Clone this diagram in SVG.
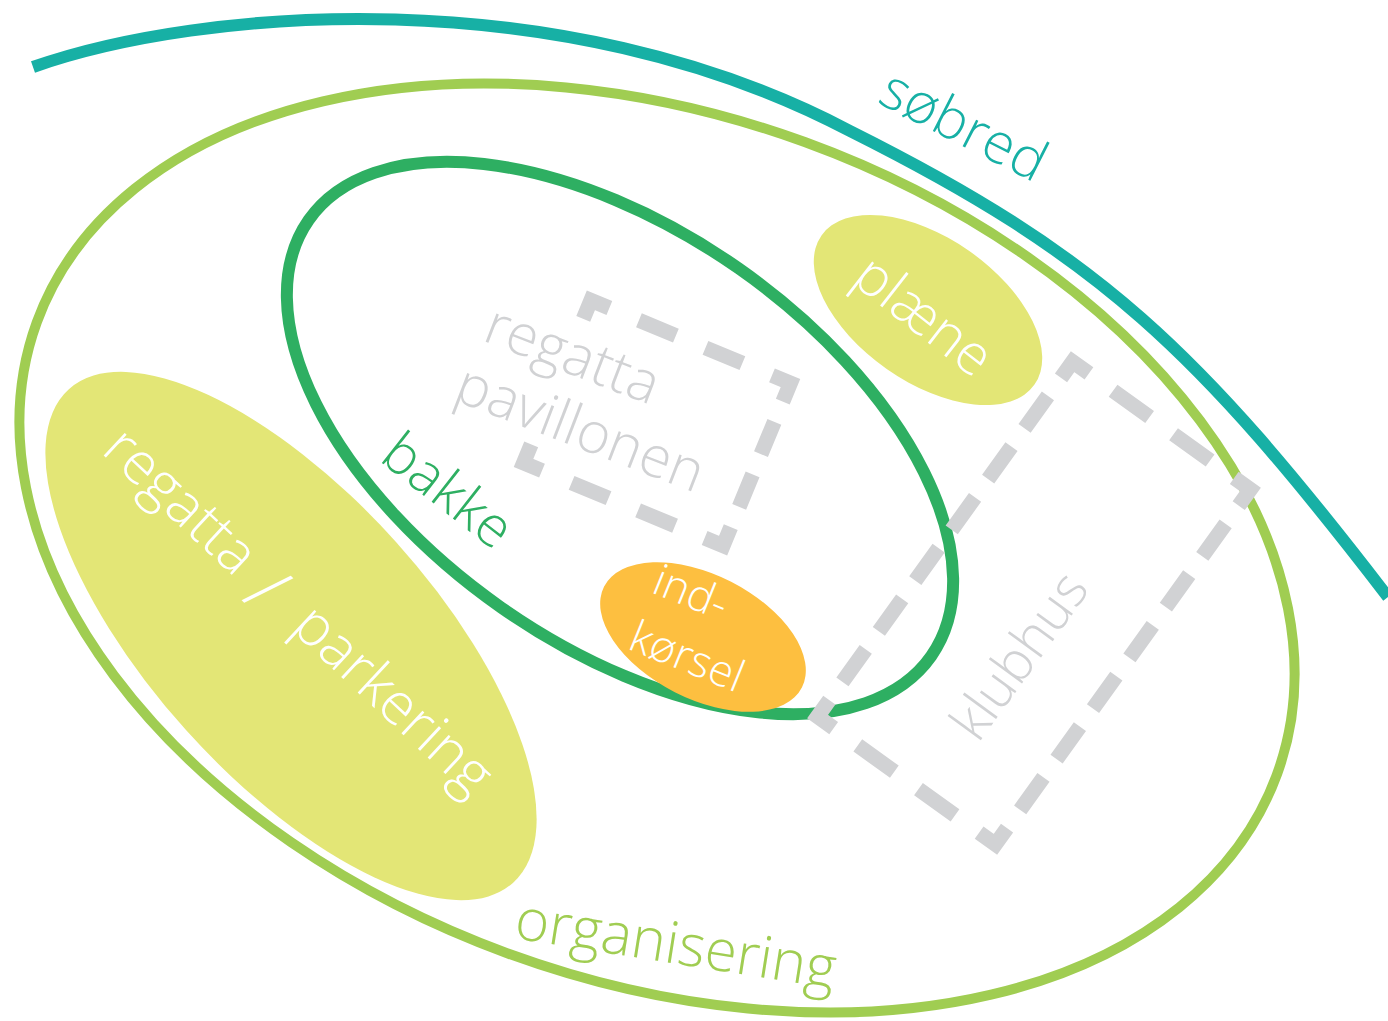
<svg xmlns="http://www.w3.org/2000/svg" width="1388" height="1021" viewBox="0 0 1388 1021">
<style>
.lbl{font-family:"Open Sans","Liberation Sans",sans-serif;font-weight:300}
.dash{fill:none;stroke:#d1d2d4;stroke-width:15;stroke-linejoin:miter;stroke-linecap:butt}
</style>
<rect width="1388" height="1021" fill="#ffffff"/>
<g id="organisering">
<ellipse cx="657" cy="548" rx="660" ry="432" transform="rotate(20 657 548)" fill="none" stroke="#a0cd52" stroke-width="10"/>
<text class="lbl" transform="translate(513 938) rotate(9)" font-size="58" fill="#a0cd52">organisering</text>
</g>
<g id="regatta-parkering">
<ellipse cx="291" cy="636" rx="332" ry="141" transform="rotate(48 291 636)" fill="#e3e676"/>
</g>
<g id="plaene">
<ellipse cx="928" cy="310" rx="130" ry="72" transform="rotate(35 928 310)" fill="#e3e676"/>
<text class="lbl" transform="translate(850 282) rotate(38)" font-size="56" fill="#ffffff">plæne</text>
</g>
<g id="bakke">
<ellipse cx="620" cy="438" rx="380" ry="207" transform="rotate(35 620 438)" fill="none" stroke="#2eaf62" stroke-width="12"/>
<text class="lbl" transform="translate(378 460) rotate(38)" font-size="56" fill="#2eaf62">bakke</text>
</g>
<g id="regatta-parkering-label">
<text class="lbl" transform="translate(100 452) rotate(43)" font-size="58" fill="#ffffff">regatta <tspan dx="4" dy="12" font-size="72">/</tspan> <tspan dx="16" dy="-12">parkering</tspan></text>
</g>
<g id="indkorsel">
<ellipse cx="703" cy="637" rx="111" ry="62" transform="rotate(27 703 637)" fill="#fdbf40"/>
<text class="lbl" transform="translate(650 592) rotate(22)" font-size="44" fill="#ffffff"><tspan x="0" y="0">ind-</tspan><tspan x="-1" y="61">kørsel</tspan></text>
</g>
<g id="connectors">
<g transform="translate(657 423) rotate(22.5)">
<path class="dash" d="M-108,0 V-88 H108 V88 H-108 Z" stroke-dasharray="0 68 40 32 40 32 40 32 40 22 35 22 35 22 40 32 40 32 40 32 40 68"/>
</g>
<g transform="translate(1034 603) rotate(35.7)">
<path class="dash" d="M0,-218.5 H109.5 V218.5 H-109.5 V-218.5 Z" stroke-dasharray="0 14.85 45 29.7 40 22.43 40 22.43 40 22.43 40 22.43 40 22.43 40 22.43 40 22.43 40 29.7 45 29.7 45 29.7 40 22.43 40 22.43 40 22.43 40 22.43 40 22.43 40 22.43 40 22.43 40 29.7 45 14.85"/>
</g>
</g>
<g id="regatta-pavillonen">
<text class="lbl" transform="translate(481 340) rotate(21)" font-size="57" fill="#d1d2d4"><tspan x="0" y="0">regatta</tspan><tspan x="-6" y="66">pavillonen</tspan></text>
</g>
<g id="klubhus">
<text class="lbl" transform="translate(978 744) rotate(-54)" font-size="54" fill="#d1d2d4">klubhus</text>
</g>
<g id="sobred">
<path d="M33,67 C200,8 560,-22 850,131 C1100,256 1198,350 1388,597" fill="none" stroke="#17b0a5" stroke-width="12"/>
<text class="lbl" transform="translate(876 102) rotate(27)" font-size="56" fill="#17b0a5">søbred</text>
</g>
</svg>
